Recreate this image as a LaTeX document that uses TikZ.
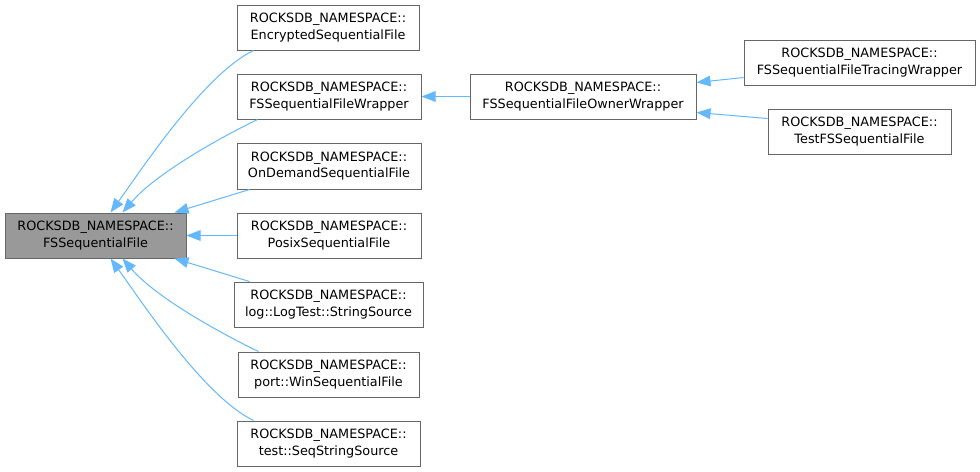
\documentclass[tikz,border=0pt]{standalone}
\usepackage{fontspec}
\setmainfont{DejaVu Sans}
\usetikzlibrary{arrows.meta}
\definecolor{edgeblue}{HTML}{63B8FF}
\definecolor{boxline}{HTML}{666666}
\definecolor{mainfill}{HTML}{999999}
\begin{document}
\begin{tikzpicture}[x=0.75pt,y=-0.75pt,
  box/.style={draw=boxline,line width=0.75pt,fill=white,inner sep=0pt,align=center,
    font=\fontsize{9.6}{12.6}\selectfont,text=black},
  mainbox/.style={box,fill=mainfill},
  inh/.style={draw=edgeblue,line width=0.75pt,-{Triangle[length=10.5pt,width=8pt]}}]
\useasboundingbox (0,0) rectangle (980,471);
\node[mainbox,minimum width=135.75pt,minimum height=33.75pt] (main) at (95.5,235.5) {ROCKSDB\_NAMESPACE::\\FSSequentialFile};
\node[box,minimum width=136.5pt,minimum height=33.75pt] (enc) at (328,27.5) {ROCKSDB\_NAMESPACE::\\EncryptedSequentialFile};
\node[box,minimum width=138pt,minimum height=33.75pt] (wrap) at (329,96.5) {ROCKSDB\_NAMESPACE::\\FSSequentialFileWrapper};
\node[box,minimum width=138pt,minimum height=34.5pt] (ond) at (329,166) {ROCKSDB\_NAMESPACE::\\OnDemandSequentialFile};
\node[box,minimum width=138pt,minimum height=33.75pt] (posix) at (329,235.5) {ROCKSDB\_NAMESPACE::\\PosixSequentialFile};
\node[box,minimum width=141.75pt,minimum height=33.75pt] (log) at (328.5,304.5) {ROCKSDB\_NAMESPACE::\\log::LogTest::StringSource};
\node[box,minimum width=135.75pt,minimum height=33.75pt] (port) at (328.5,374.5) {ROCKSDB\_NAMESPACE::\\port::WinSequentialFile};
\node[box,minimum width=137.25pt,minimum height=33.75pt] (test) at (328.5,443.5) {ROCKSDB\_NAMESPACE::\\test::SeqStringSource};
\node[box,minimum width=169.5pt,minimum height=33.75pt] (owner) at (583,96.5) {ROCKSDB\_NAMESPACE::\\FSSequentialFileOwnerWrapper};
\node[box,minimum width=173.25pt,minimum height=33.75pt] (trace) at (859.5,62.5) {ROCKSDB\_NAMESPACE::\\FSSequentialFileTracingWrapper};
\node[box,minimum width=137.25pt,minimum height=33.75pt] (testfs) at (859.5,131.5) {ROCKSDB\_NAMESPACE::\\TestFSSequentialFile};
% edges to main
\draw[inh] ([xshift=12.75pt]enc.south west) .. controls +(-50,24) and +(29,-40) .. ([xshift=79.5pt]main.north west);
\draw[inh] ([xshift=15.75pt]wrap.south west) .. controls +(-23,11) and +(37,-43) .. ([xshift=88.5pt]main.north west);
\draw[inh] ([xshift=9.75pt]ond.south west) -- ([xshift=127.5pt]main.north west);
\draw[inh] (posix.west) -- (main.east);
\draw[inh] ([xshift=12pt]log.north west) -- ([xshift=127.5pt]main.south west);
\draw[inh] ([xshift=15.75pt]port.north west) .. controls +(-23,-11) and +(37,43) .. ([xshift=88.5pt]main.south west);
\draw[inh] ([xshift=12.75pt]test.north west) .. controls +(-50,-24) and +(29,40) .. ([xshift=79.5pt]main.south west);
% right side
\draw[inh] (owner.west) -- (wrap.east);
\draw[inh] ([yshift=6pt]trace.south west) -- ([yshift=-6.75pt]owner.north east);
\draw[inh] ([yshift=-7.5pt]testfs.north west) -- ([yshift=5.25pt]owner.south east);
\end{tikzpicture}
\end{document}
